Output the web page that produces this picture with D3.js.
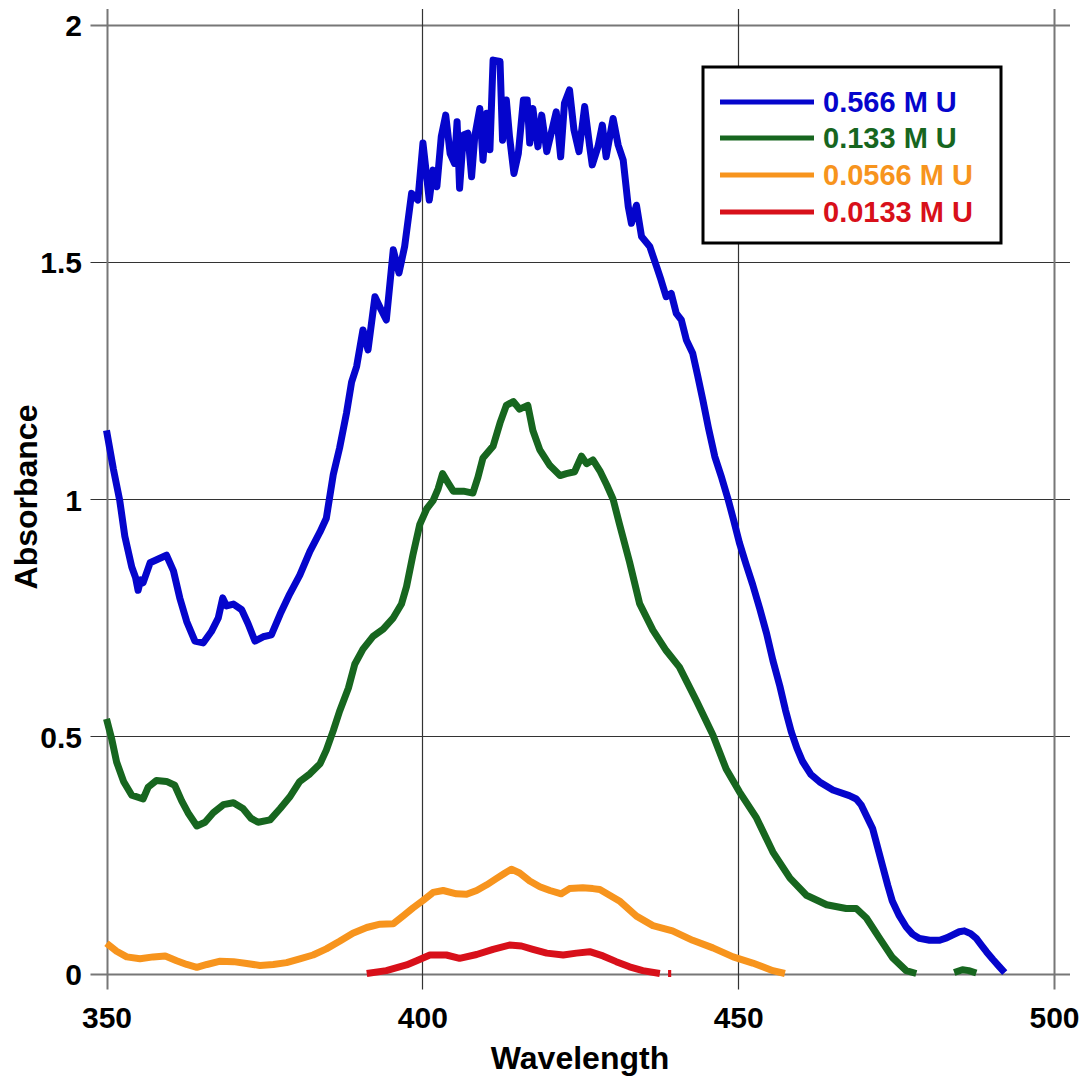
<!DOCTYPE html>
<html>
<head>
<meta charset="utf-8">
<script src="https://cdn.jsdelivr.net/npm/d3@7"></script>
<style>
  body { margin: 0; background: #fff; }
  text { font-family: Arial, "Liberation Sans", sans-serif; font-weight: bold; }
</style>
</head>
<body>
<div id="chart"></div>
<script>

// wavelength / absorbance pairs, null = gap in the trace
var blue566 = [
  [350,1.145],[351.1,1.063],[352.1,0.997],[352.9,0.922],[354,0.857],[354.6,0.835],[355,0.808],[355.4,0.83],
  [355.8,0.824],[356.9,0.866],[358.2,0.874],[359.5,0.882],[360.6,0.849],[361.6,0.792],[362.7,0.742],[364,0.701],
  [365.3,0.697],[366.6,0.721],[367.7,0.75],[368.4,0.792],[369,0.775],[370.1,0.779],[371.4,0.767],[372.4,0.738],
  [373.5,0.701],[374.8,0.71],[376.1,0.714],[377.5,0.758],[379,0.8],[380.6,0.84],[382.2,0.89],[383.8,0.931],
  [384.8,0.96],[385.9,1.052],[386.9,1.108],[388,1.182],[388.8,1.247],[389.6,1.28],[390.6,1.357],[391.4,1.315],
  [392.5,1.427],[393.5,1.399],[394.3,1.378],[395.4,1.526],[396.3,1.477],[397.2,1.533],[398.3,1.645],[399.3,1.631],
  [400.1,1.751],[401.1,1.631],[401.7,1.694],[402.3,1.659],[403,1.765],[403.7,1.81],[404.4,1.729],[405.1,1.708],
  [405.5,1.796],[405.9,1.656],[406.5,1.768],[407.2,1.772],[407.8,1.68],[408.3,1.765],[409.1,1.824],[409.6,1.715],
  [410.2,1.814],[410.7,1.737],[411.2,1.926],[412.3,1.923],[412.7,1.757],[413.3,1.842],[413.8,1.765],[414.5,1.687],
  [415.2,1.729],[416,1.842],[416.6,1.842],[417,1.751],[417.5,1.824],[418.3,1.743],[418.9,1.81],[419.7,1.733],
  [420.4,1.772],[421.2,1.817],[421.9,1.722],[422.5,1.835],[423.3,1.863],[424,1.779],[424.8,1.733],[425.7,1.828],
  [426.5,1.743],[426.9,1.705],[427.8,1.743],[428.5,1.789],[429.1,1.722],[430.2,1.803],[431,1.747],[431.8,1.715],
  [432.6,1.617],[433.1,1.582],[433.9,1.62],[434.7,1.554],[436,1.533],[437.1,1.49],[437.8,1.462],[438.6,1.427],
  [439.4,1.434],[440.2,1.392],[441,1.378],[441.8,1.336],[442.8,1.308],[443.6,1.26],[444.4,1.21],[445.3,1.15],
  [446.3,1.09],[447.4,1.045],[448.4,1.0],[449.3,0.955],[450.2,0.908],[451.2,0.865],[452.3,0.82],[453.4,0.77],
  [454.5,0.717],[455.5,0.66],[456.6,0.606],[457.5,0.555],[458.4,0.51],[459.3,0.475],[460.2,0.447],[461.5,0.42],
  [462.9,0.404],[465,0.387],[467.6,0.375],[468.7,0.368],[469.5,0.355],[470.4,0.33],[471.3,0.305],[472.1,0.265],
  [472.9,0.225],[473.7,0.185],[474.4,0.153],[475.5,0.122],[476.6,0.098],[477.6,0.083],[478.7,0.074],[480.3,0.07],
  [481.9,0.07],[483,0.075],[483.9,0.081],[485,0.088],[485.8,0.09],[486.8,0.084],[487.7,0.074],[488.5,0.06],
  [489.3,0.046],[490.3,0.03],[491.3,0.015],[492.2,0.002]
]

var green133 = [
  [350,0.537],[350.8,0.496],[351.6,0.446],[352.7,0.405],[354,0.376],[355.8,0.368],[356.6,0.393],[357.9,0.407],
  [359.5,0.405],[360.8,0.397],[361.9,0.364],[362.9,0.339],[364.3,0.311],[365.6,0.319],[366.9,0.339],[368.5,0.356],
  [370.1,0.36],[371.6,0.348],[372.9,0.327],[374,0.319],[375.9,0.324],[377.5,0.348],[379,0.372],[380.6,0.405],
  [382.2,0.421],[383.8,0.442],[384.8,0.471],[385.9,0.512],[386.9,0.553],[388.3,0.602],[389.3,0.652],[390.6,0.684],
  [392.2,0.711],[393.8,0.726],[395.4,0.75],[396.7,0.779],[397.5,0.816],[398.5,0.882],[399.6,0.947],[400.7,0.98],
  [401.7,0.997],[402.5,1.022],[403.2,1.054],[404.1,1.034],[404.9,1.017],[406.5,1.017],[408,1.013],[408.8,1.046],
  [409.6,1.087],[411.2,1.112],[412.3,1.161],[413.3,1.198],[414.4,1.206],[415.4,1.19],[416.7,1.198],[417.5,1.145],
  [418.6,1.104],[420.2,1.071],[421.8,1.05],[422.8,1.054],[424.1,1.058],[425.2,1.091],[426,1.075],[427,1.083],
  [428.1,1.06],[429.2,1.03],[430.2,1.0],[431.2,0.948],[432.8,0.868],[434.4,0.78],[436.5,0.724],[438.6,0.681],
  [440.7,0.646],[443.4,0.575],[446,0.503],[448.1,0.431],[450.2,0.383],[452.9,0.328],[455.5,0.256],[458.2,0.201],
  [460.8,0.165],[464,0.145],[467.1,0.137],[468.7,0.137],[470.3,0.117],[472.4,0.074],[474.4,0.034],[476.6,0.006],
  [478.2,0.0], null,
  [484.2,0.002],[485.5,0.008],[486.5,0.006],[487.7,0.001]
]

var orange0566 = [
  [350,0.064],[351.6,0.047],[353.2,0.035],[355.3,0.031],[357.4,0.035],[359.3,0.037],[361.1,0.027],[362.7,0.019],
  [364.3,0.013],[365.9,0.019],[368,0.026],[370.1,0.025],[372.2,0.021],[374.3,0.017],[376.4,0.019],[378.5,0.023],
  [380.6,0.031],[382.7,0.039],[384.8,0.052],[386.9,0.068],[389,0.085],[391.2,0.097],[393.3,0.104],[395.4,0.105],
  [397,0.122],[398.5,0.138],[400.1,0.154],[401.7,0.171],[403.3,0.175],[405.4,0.168],[407,0.167],[408.6,0.175],
  [410.2,0.187],[411.7,0.2],[413.1,0.212],[414.1,0.22],[415.4,0.212],[417,0.195],[418.6,0.183],[420.2,0.175],
  [422,0.168],[423.3,0.179],[425.4,0.181],[427,0.179],[428.1,0.177],[431.2,0.153],[433.9,0.121],[436.5,0.101],
  [439.6,0.09],[442.8,0.07],[446,0.054],[449.2,0.035],[452.3,0.022],[455.5,0.006],[457.4,0.0]
]

var red0133 = [
  [391.2,0],[394.3,0.006],[397.5,0.018],[399.1,0.027],[401.2,0.039],[403.8,0.039],[405.9,0.032],[408.6,0.04],
  [411.2,0.051],[413.8,0.06],[415.7,0.058],[417.5,0.051],[419.7,0.043],[422.3,0.039],[424.4,0.043],[426.5,0.046],
  [428.6,0.037],[430.7,0.025],[432.8,0.014],[434.9,0.006],[437.6,0], null,
  [438.9,0],[439.4,0]
]

var seriesNames = ["0.566 M U", "0.133 M U", "0.0566 M U", "0.0133 M U"]
var seriesColors = ["#0505cc", "#17661f", "#f7941d", "#d8101a"]
var seriesData = [blue566, green133, orange0566, red0133]

var xTicks = [350, 400, 450, 500]
var yTicks = [0, 0.5, 1, 1.5, 2]
var yTickLabels = ["0", "0.5", "1", "1.5", "2"]

var width = 1086,
    height = 1078;

var x = d3.scaleLinear().domain([350, 500]).range([106.5, 1054])
var y = d3.scaleLinear().domain([0, 2]).range([973.5, 25])

var svg = d3.select("#chart")
    .append("svg")
    .attr("width", width)
    .attr("height", height)

// grid, lines run 16px past the frame on each side
var ext = 16

svg.selectAll(".hgrid")
    .data(yTicks)
    .enter()
    .append("line")
    .attr("x1", x(350) - ext)
    .attr("x2", x(500) + ext)
    .attr("y1", function(d) { return Math.round(y(d)) + 0.5 })
    .attr("y2", function(d) { return Math.round(y(d)) + 0.5 })
    .attr("stroke", function(d) { return (d == 0 || d == 2) ? "#777" : "#333" })
    .attr("stroke-width", function(d) { return (d == 0 || d == 2) ? 2 : 1.2 })

svg.selectAll(".vgrid")
    .data(xTicks)
    .enter()
    .append("line")
    .attr("y1", y(2) - ext)
    .attr("y2", y(0) + ext)
    .attr("x1", function(d) { return Math.round(x(d)) + 0.5 })
    .attr("x2", function(d) { return Math.round(x(d)) + 0.5 })
    .attr("stroke", function(d) { return (d == 350 || d == 500) ? "#777" : "#333" })
    .attr("stroke-width", function(d) { return (d == 350 || d == 500) ? 2 : 1.2 })

// tick labels from d3 axes, no lines
var xAxis = d3.axisBottom(x).tickValues(xTicks).tickSize(0).tickPadding(0)
var yAxis = d3.axisLeft(y).tickValues(yTicks).tickSize(0).tickPadding(0)
    .tickFormat(function(d, i) { return yTickLabels[i] })

var gx = svg.append("g").attr("transform", "translate(0," + 1028 + ")").call(xAxis)
gx.select(".domain").remove()
gx.selectAll("text").attr("dy", 0)

var gy = svg.append("g").attr("transform", "translate(" + 82 + ",0)").call(yAxis)
gy.select(".domain").remove()
gy.selectAll("text").attr("dy", "0.36em")

svg.selectAll(".tick text")
    .attr("font-family", "Arial, 'Liberation Sans', sans-serif")
    .attr("font-weight", "bold")
    .attr("font-size", 30)
    .attr("fill", "#000")

svg.append("text")
    .attr("x", 580)
    .attr("y", 1069)
    .attr("text-anchor", "middle")
    .attr("font-size", 32)
    .text("Wavelength")

svg.append("text")
    .attr("transform", "translate(37,497) rotate(-90)")
    .attr("text-anchor", "middle")
    .attr("font-size", 32)
    .text("Absorbance")

// traces
var line = d3.line()
    .defined(function(d) { return d !== null })
    .x(function(d) { return x(d[0]) })
    .y(function(d) { return y(d[1]) })

for (let i = seriesData.length - 1; i >= 0; i--) {
    svg.append("path")
        .attr("d", line(seriesData[i]))
        .attr("fill", "none")
        .attr("stroke", seriesColors[i])
        .attr("stroke-width", 7)
        .attr("stroke-linejoin", "round")
}

// legend
svg.append("rect")
    .attr("x", 703)
    .attr("y", 67)
    .attr("width", 298)
    .attr("height", 176)
    .attr("fill", "#fff")
    .attr("stroke", "#000")
    .attr("stroke-width", 3)

var rowY = [102, 138, 175, 212]

for (let i = 0; i < seriesNames.length; i++) {
    svg.append("line")
        .attr("x1", 720)
        .attr("x2", 814)
        .attr("y1", rowY[i])
        .attr("y2", rowY[i])
        .attr("stroke", seriesColors[i])
        .attr("stroke-width", 5)
    svg.append("text")
        .attr("x", 823)
        .attr("y", rowY[i])
        .attr("dy", "0.36em")
        .attr("font-size", 29)
        .attr("fill", seriesColors[i])
        .text(seriesNames[i])
}

</script>
</body>
</html>
